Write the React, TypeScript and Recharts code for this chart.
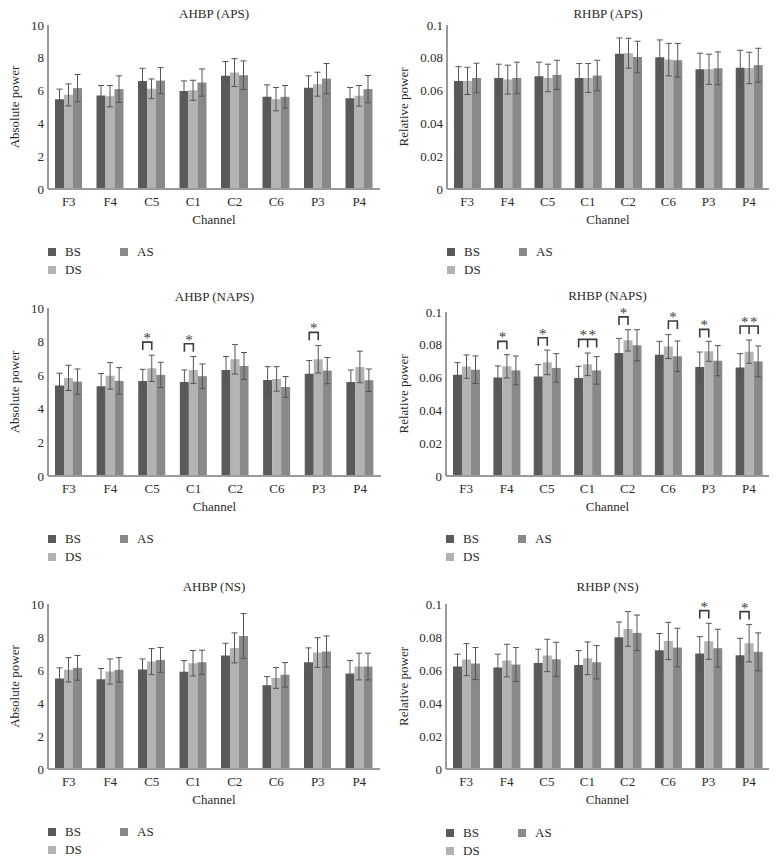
import React from 'react';
import { BarChart, Bar, XAxis, YAxis, ErrorBar } from 'recharts';

const FONT = '"Liberation Serif", "Times New Roman", serif';
const TEXT = '#2a2a2a';
const AXIS = '#9a9a9a';
const ERR = '#555555';
const COLORS: Record<string, string> = { BS: '#5a5a5a', DS: '#b3b3b3', AS: '#898989' };

const channels = ['F3', 'F4', 'C5', 'C1', 'C2', 'C6', 'P3', 'P4'];
const absTicks = [0, 2, 4, 6, 8, 10];
const relTicks = [0, 0.02, 0.04, 0.06, 0.08, 0.1];

// AHBP (APS)
const ahbpApsBS = [5.48, 5.70, 6.59, 5.98, 6.90, 5.62, 6.17, 5.54];
const ahbpApsBSErr = [0.61, 0.61, 0.77, 0.61, 0.87, 0.73, 0.73, 0.65];
const ahbpApsDS = [5.74, 5.66, 6.11, 6.02, 7.10, 5.48, 6.39, 5.68];
const ahbpApsDSErr = [0.67, 0.65, 0.60, 0.61, 0.85, 0.71, 0.73, 0.63];
const ahbpApsAS = [6.15, 6.09, 6.61, 6.49, 6.94, 5.62, 6.73, 6.09];
const ahbpApsASErr = [0.83, 0.81, 0.79, 0.83, 0.87, 0.69, 0.92, 0.83];

// RHBP (APS)
const rhbpApsBS = [0.0659, 0.0677, 0.0688, 0.0677, 0.0824, 0.0803, 0.0730, 0.0740];
const rhbpApsBSErr = [0.0087, 0.0084, 0.0085, 0.0088, 0.0097, 0.0106, 0.0098, 0.0106];
const rhbpApsDS = [0.0659, 0.0667, 0.0677, 0.0677, 0.0828, 0.0789, 0.0730, 0.0738];
const rhbpApsDSErr = [0.0083, 0.0088, 0.0084, 0.0088, 0.0091, 0.0099, 0.0092, 0.0096];
const rhbpApsAS = [0.0677, 0.0677, 0.0696, 0.0692, 0.0805, 0.0785, 0.0736, 0.0755];
const rhbpApsASErr = [0.0090, 0.0096, 0.0089, 0.0093, 0.0096, 0.0103, 0.0100, 0.0103];

// AHBP (NAPS)
const ahbpNapsBS = [5.38, 5.34, 5.66, 5.60, 6.31, 5.72, 6.08, 5.60];
const ahbpNapsBSErr = [0.74, 0.76, 0.69, 0.71, 0.80, 0.79, 0.79, 0.71];
const ahbpNapsDS = [5.84, 5.96, 6.41, 6.31, 6.95, 5.78, 6.95, 6.49];
const ahbpNapsDSErr = [0.75, 0.79, 0.78, 0.80, 0.88, 0.73, 0.82, 0.94];
const ahbpNapsAS = [5.62, 5.66, 6.02, 5.94, 6.55, 5.30, 6.27, 5.70];
const ahbpNapsASErr = [0.75, 0.79, 0.75, 0.73, 0.80, 0.62, 0.78, 0.67];

// RHBP (NAPS)
const rhbpNapsBS = [0.0618, 0.0600, 0.0606, 0.0598, 0.0750, 0.0740, 0.0665, 0.0661];
const rhbpNapsBSErr = [0.0073, 0.0071, 0.0073, 0.0071, 0.0089, 0.0081, 0.0091, 0.0085];
const rhbpNapsDS = [0.0667, 0.0669, 0.0693, 0.0681, 0.0827, 0.0789, 0.0760, 0.0758];
const rhbpNapsDSErr = [0.0071, 0.0071, 0.0075, 0.0069, 0.0065, 0.0073, 0.0061, 0.0071];
const rhbpNapsAS = [0.0648, 0.0644, 0.0659, 0.0644, 0.0797, 0.0730, 0.0703, 0.0699];
const rhbpNapsASErr = [0.0084, 0.0088, 0.0087, 0.0084, 0.0095, 0.0093, 0.0092, 0.0094];

// AHBP (NS)
const ahbpNsBS = [5.48, 5.44, 6.03, 5.89, 6.88, 5.08, 6.47, 5.79];
const ahbpNsBSErr = [0.65, 0.65, 0.64, 0.68, 0.74, 0.52, 0.87, 0.78];
const ahbpNsDS = [6.01, 5.91, 6.51, 6.41, 7.34, 5.52, 7.06, 6.21];
const ahbpNsDSErr = [0.74, 0.76, 0.79, 0.77, 0.91, 0.63, 0.90, 0.81];
const ahbpNsAS = [6.13, 6.01, 6.61, 6.47, 8.06, 5.71, 7.12, 6.21];
const ahbpNsASErr = [0.75, 0.74, 0.75, 0.73, 1.36, 0.74, 0.94, 0.81];

// RHBP (NS)
const rhbpNsBS = [0.0621, 0.0615, 0.0643, 0.0631, 0.0798, 0.0720, 0.0700, 0.0690];
const rhbpNsBSErr = [0.0075, 0.0081, 0.0083, 0.0087, 0.0093, 0.0101, 0.0102, 0.0102];
const rhbpNsDS = [0.0663, 0.0657, 0.0688, 0.0671, 0.0849, 0.0776, 0.0774, 0.0762];
const rhbpNsDSErr = [0.0097, 0.0099, 0.0098, 0.0099, 0.0105, 0.0113, 0.0109, 0.0113];
const rhbpNsAS = [0.0639, 0.0633, 0.0665, 0.0647, 0.0825, 0.0736, 0.0732, 0.0710];
const rhbpNsASErr = [0.0097, 0.0103, 0.0103, 0.0101, 0.0108, 0.0117, 0.0115, 0.0115];

// significance brackets: from/to are series indices (0 BS, 1 DS, 2 AS)
type Bracket = { ch: string; from: number; to: number; level: number; stars: number };
const ahbpNapsBrackets: Bracket[] = [
  { ch: 'C5', from: 0, to: 1, level: 7.97, stars: 1 },
  { ch: 'C1', from: 0, to: 1, level: 7.87, stars: 1 },
  { ch: 'P3', from: 0, to: 1, level: 8.55, stars: 1 },
];
const rhbpNapsBrackets: Bracket[] = [
  { ch: 'F4', from: 0, to: 1, level: 0.0821, stars: 1 },
  { ch: 'C5', from: 0, to: 1, level: 0.0843, stars: 1 },
  { ch: 'C1', from: 0, to: 2, level: 0.0833, stars: 2 },
  { ch: 'C2', from: 0, to: 1, level: 0.0970, stars: 1 },
  { ch: 'C6', from: 1, to: 2, level: 0.0945, stars: 1 },
  { ch: 'P3', from: 0, to: 1, level: 0.0894, stars: 1 },
  { ch: 'P4', from: 0, to: 2, level: 0.0915, stars: 2 },
];
const rhbpNsBrackets: Bracket[] = [
  { ch: 'P3', from: 0, to: 1, level: 0.0960, stars: 1 },
  { ch: 'P4', from: 0, to: 1, level: 0.0954, stars: 1 },
];

function buildRows(
  bs: number[], bsE: number[], ds: number[], dsE: number[], as: number[], asE: number[], brackets: Bracket[]
) {
  return channels.map((ch, i) => ({
    ch,
    BS: bs[i], BSe: bsE[i],
    DS: ds[i], DSe: dsE[i],
    AS: as[i], ASe: asE[i],
    bracket: brackets.find((b) => b.ch === ch) || null,
  }));
}

// AS bar shape: draws the bar and, if present, the significance bracket above the group
function AsShape(props: any) {
  const { x, y, width, height, fill, payload } = props;
  const els: React.ReactNode[] = [
    <rect key="r" x={x} y={y} width={width} height={height} fill={fill} />,
  ];
  const b: Bracket | null = payload && payload.bracket;
  if (b && payload.AS > 0 && height > 0) {
    const base = y + height;
    const pxPerUnit = height / payload.AS;
    const ly = base - b.level * pxPerUnit;
    const cx = (i: number) => x + width / 2 - (2 - i) * width;
    const prong = 8;
    const x1 = cx(b.from);
    const x2 = cx(b.to);
    let d = `M${x1},${ly + prong} L${x1},${ly} L${x2},${ly} L${x2},${ly + prong}`;
    const starXs: number[] = [];
    if (b.to - b.from === 2 && b.stars === 2) {
      const xm = cx(b.from + 1);
      d += ` M${xm},${ly} L${xm},${ly + prong}`;
      starXs.push((x1 + xm) / 2, (xm + x2) / 2);
    } else {
      starXs.push((x1 + x2) / 2);
    }
    els.push(<path key="b" d={d} stroke="#3c3c3c" strokeWidth={1.6} fill="none" />);
    starXs.forEach((sx, k) =>
      els.push(
        <text key={'s' + k} x={sx} y={ly + 1} textAnchor="middle" fontSize={15} fontFamily={FONT} fill="#3c3c3c">
          *
        </text>
      )
    );
  }
  return <g>{els}</g>;
}

type PanelCfg = {
  left: number; top: number;
  plotLeft: number; plotRight: number; plotTop: number; plotBottom: number;
  titleY: number; legendY: number;
  title: string; yLabel: string; domain: [number, number]; ticks: number[];
  rows: any[];
};

function Panel({ cfg }: { cfg: PanelCfg }) {
  const W = 389;
  const H = cfg.plotBottom + 40;
  const tickStyle = { fill: TEXT, fontSize: 13, fontFamily: FONT };
  const legendItem = (name: string, dx: number, dy: number) => (
    <div key={name} style={{ position: 'absolute', left: dx, top: dy, height: 16, width: 60 }}>
      <div style={{ position: 'absolute', left: 0, top: 4, width: 8, height: 8, background: COLORS[name] }} />
      <div style={{ position: 'absolute', left: 17, top: 0, lineHeight: '16px', fontSize: 13, color: TEXT }}>{name}</div>
    </div>
  );
  return (
    <div style={{ position: 'absolute', left: cfg.left, top: cfg.top, width: W, height: 290 }}>
      <div
        style={{
          position: 'absolute', left: cfg.plotLeft, width: cfg.plotRight - cfg.plotLeft, top: cfg.titleY - 8,
          height: 16, lineHeight: '16px', textAlign: 'center', fontSize: 13, color: TEXT,
        }}
      >
        {cfg.title}
      </div>
      <BarChart
        width={W}
        height={H}
        data={cfg.rows}
        margin={{ top: cfg.plotTop, right: W - cfg.plotRight, bottom: 0, left: 0 }}
        barGap={0}
        barSize={9}
      >
        <XAxis
          dataKey="ch"
          height={40}
          interval={0}
          tickLine={false}
          tickSize={6}
          tickMargin={2}
          axisLine={{ stroke: AXIS, strokeWidth: 2 }}
          tick={tickStyle}
          label={{ value: 'Channel', position: 'insideBottom', offset: 5, fill: TEXT, fontSize: 13, fontFamily: FONT }}
        />
        <YAxis
          width={cfg.plotLeft}
          domain={cfg.domain}
          ticks={cfg.ticks}
          tickLine={false}
          tickSize={0}
          tickMargin={4}
          axisLine={{ stroke: AXIS, strokeWidth: 2 }}
          tick={tickStyle}
          label={{
            value: cfg.yLabel, angle: -90, position: 'insideLeft', offset: 14,
            fill: TEXT, fontSize: 13, fontFamily: FONT, style: { textAnchor: 'middle' },
          }}
        />
        <Bar dataKey="BS" fill={COLORS.BS} isAnimationActive={false}>
          <ErrorBar dataKey="BSe" width={3} stroke={ERR} strokeWidth={1} />
        </Bar>
        <Bar dataKey="DS" fill={COLORS.DS} isAnimationActive={false}>
          <ErrorBar dataKey="DSe" width={3} stroke={ERR} strokeWidth={1} />
        </Bar>
        <Bar dataKey="AS" fill={COLORS.AS} isAnimationActive={false} shape={AsShape}>
          <ErrorBar dataKey="ASe" width={3} stroke={ERR} strokeWidth={1} />
        </Bar>
      </BarChart>
      <div style={{ position: 'absolute', left: cfg.plotLeft, top: cfg.legendY - 8 }}>
        {legendItem('BS', 0, 0)}
        {legendItem('AS', 72, 0)}
        {legendItem('DS', 0, 17.5)}
      </div>
    </div>
  );
}

const panels: PanelCfg[] = [
  {
    left: 0, top: 0, plotLeft: 48, plotRight: 380, plotTop: 25, plotBottom: 189, titleY: 14, legendY: 252,
    title: 'AHBP (APS)', yLabel: 'Absolute power', domain: [0, 10], ticks: absTicks,
    rows: buildRows(ahbpApsBS, ahbpApsBSErr, ahbpApsDS, ahbpApsDSErr, ahbpApsAS, ahbpApsASErr, []),
  },
  {
    left: 389, top: 0, plotLeft: 58, plotRight: 380, plotTop: 25, plotBottom: 189, titleY: 14, legendY: 252,
    title: 'RHBP (APS)', yLabel: 'Relative power', domain: [0, 0.1], ticks: relTicks,
    rows: buildRows(rhbpApsBS, rhbpApsBSErr, rhbpApsDS, rhbpApsDSErr, rhbpApsAS, rhbpApsASErr, []),
  },
  {
    left: 0, top: 290, plotLeft: 48, plotRight: 381, plotTop: 18, plotBottom: 186, titleY: 7, legendY: 249,
    title: 'AHBP (NAPS)', yLabel: 'Absolute power', domain: [0, 10], ticks: absTicks,
    rows: buildRows(ahbpNapsBS, ahbpNapsBSErr, ahbpNapsDS, ahbpNapsDSErr, ahbpNapsAS, ahbpNapsASErr, ahbpNapsBrackets),
  },
  {
    left: 389, top: 290, plotLeft: 57, plotRight: 380, plotTop: 22, plotBottom: 186, titleY: 6, legendY: 249,
    title: 'RHBP (NAPS)', yLabel: 'Relative power', domain: [0, 0.1], ticks: relTicks,
    rows: buildRows(rhbpNapsBS, rhbpNapsBSErr, rhbpNapsDS, rhbpNapsDSErr, rhbpNapsAS, rhbpNapsASErr, rhbpNapsBrackets),
  },
  {
    left: 0, top: 580, plotLeft: 48, plotRight: 380, plotTop: 24, plotBottom: 189, titleY: 7, legendY: 252,
    title: 'AHBP (NS)', yLabel: 'Absolute power', domain: [0, 10], ticks: absTicks,
    rows: buildRows(ahbpNsBS, ahbpNsBSErr, ahbpNsDS, ahbpNsDSErr, ahbpNsAS, ahbpNsASErr, []),
  },
  {
    left: 389, top: 580, plotLeft: 57, plotRight: 380, plotTop: 24, plotBottom: 189, titleY: 7, legendY: 253,
    title: 'RHBP (NS)', yLabel: 'Relative power', domain: [0, 0.1], ticks: relTicks,
    rows: buildRows(rhbpNsBS, rhbpNsBSErr, rhbpNsDS, rhbpNsDSErr, rhbpNsAS, rhbpNsASErr, rhbpNsBrackets),
  },
];

export default function App() {
  return (
    <div
      style={{
        position: 'absolute', left: 0, top: 0, width: 778, height: 864, background: '#ffffff',
        fontFamily: FONT, overflow: 'hidden',
      }}
    >
      {panels.map((p) => (
        <Panel key={p.title} cfg={p} />
      ))}
    </div>
  );
}
